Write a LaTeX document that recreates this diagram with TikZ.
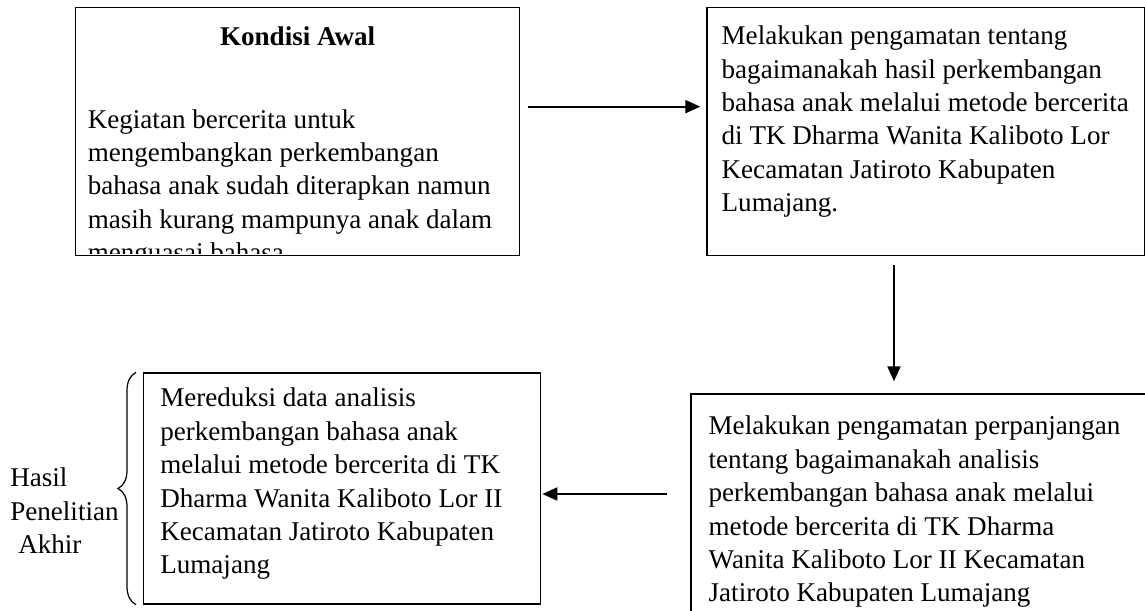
\documentclass[tikz,border=0pt]{standalone}
\usepackage{fontspec}
\setmainfont{Liberation Serif}
\usetikzlibrary{positioning, arrows.meta, decorations.pathreplacing}

\begin{document}
\begin{tikzpicture}[
    node distance=1cm and 1cm,
    font=\fontsize{15.4}{19}\selectfont,
    box/.style={
        draw,
        rectangle,
        line width=0.75pt,
        inner sep=0pt
    },
    boxtext/.style={
        anchor=north west,
        align=left,
        inner sep=0pt
    },
    line/.style={
        draw,
        -{Triangle[length=0.3cm, width=0.26cm]},
        line width=1.1pt
    },
    curly/.style={
        draw,
        decorate,
        decoration={brace, amplitude=0.36cm},
        line width=0.7pt
    }
]

% --- Page ---
\useasboundingbox (0,0) rectangle (22.9,-12.2);
\clip (0,0) rectangle (22.9,-12.2);

% --- Kondisi Awal (top left) ---
\node[box, minimum width=8.88cm, minimum height=4.96cm, anchor=north west] (awal) at (1.5,-0.14) {};
\node[below=0.76cm of awal.north, anchor=base, font=\fontsize{15.4}{19}\selectfont\bfseries] (awaltitle) {Kondisi Awal};
\begin{scope}
    \clip ([yshift=0.05cm]awal.south west) rectangle (awal.north east);
    \node[boxtext, below right=2.04cm and 0.25cm of awal.north west] (awaltext) {Kegiatan bercerita untuk\\mengembangkan perkembangan\\bahasa anak sudah diterapkan namun\\masih kurang mampunya anak dalam\\menguasai bahasa};
\end{scope}

% --- Pengamatan (top right) ---
\node[box, minimum width=8.76cm, minimum height=4.96cm, right=3.72cm of awal] (amati) {};
\node[boxtext, below right=0.37cm and 0.3cm of amati.north west] (amatitext) {Melakukan pengamatan tentang\\bagaimanakah hasil perkembangan\\bahasa anak melalui metode bercerita\\di TK Dharma Wanita Kaliboto Lor\\Kecamatan Jatiroto Kabupaten\\Lumajang.};

% --- Pengamatan perpanjangan (bottom right) ---
\node[box, minimum width=9.4cm, minimum height=5.2cm, below=2.74cm of amati] (lanjut) {};
\node[boxtext, below right=0.45cm and 0.36cm of lanjut.north west] (lanjuttext) {Melakukan pengamatan perpanjangan\\tentang bagaimanakah analisis\\perkembangan bahasa anak melalui\\metode bercerita di TK Dharma\\Wanita Kaliboto Lor II Kecamatan\\Jatiroto Kabupaten Lumajang};

% --- Reduksi data (bottom left) ---
\node[box, minimum width=7.94cm, minimum height=4.62cm, left=2.98cm of lanjut, yshift=0.71cm] (reduksi) {};
\node[boxtext, below right=0.31cm and 0.34cm of reduksi.north west] (reduksitext) {Mereduksi data analisis\\perkembangan bahasa anak\\melalui metode bercerita di TK\\Dharma Wanita Kaliboto Lor II\\Kecamatan Jatiroto Kabupaten\\Lumajang};

% --- Hasil penelitian akhir ---
\node[boxtext] (hasil) at ([xshift=-2.66cm, yshift=-1.91cm]reduksi.north west) {Hasil\\Penelitian\\\hspace{0.16cm}Akhir};
\draw[curly] ([xshift=-0.14cm]reduksi.south west) -- ([xshift=-0.14cm]reduksi.north west);

% --- Connections ---
\coordinate (a1) at ([yshift=0.5cm]awal.east);
\draw[line, shorten <=0.16cm, shorten >=0.12cm] (a1) -- (a1 -| amati.west);
\coordinate (a2) at ([xshift=-0.64cm]amati.south);
\draw[line, shorten <=0.18cm, shorten >=0.24cm] (a2) -- (a2 |- lanjut.north);
\coordinate (a3) at ([yshift=-0.11cm]reduksi.east);
\draw[line, shorten <=0.46cm, shorten >=0.02cm] (lanjut.west |- a3) -- (a3);

\end{tikzpicture}
\end{document}
